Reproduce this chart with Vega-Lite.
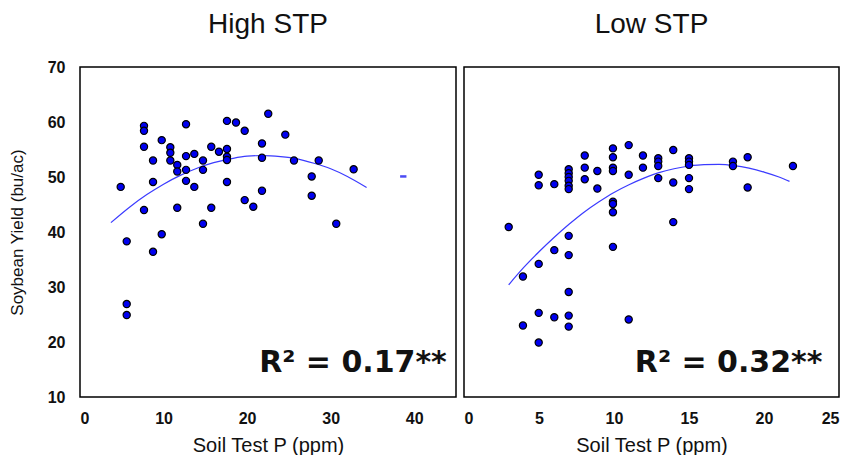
{
  "$schema": "https://vega.github.io/schema/vega-lite/v6.json",
  "background": "white",
  "padding": {"left": 7, "top": 10, "right": 5, "bottom": 0},
  "config": {
    "font": "Liberation Sans",
    "view": {"stroke": "black", "strokeWidth": 1.5},
    "axis": {"grid": false, "ticks": false, "domain": false, "labelFont": "Liberation Sans", "labelFontSize": 16, "labelFontWeight": "bold", "labelColor": "#111111", "titleFont": "Liberation Sans", "titleFontSize": 20, "titleFontWeight": "normal", "titleColor": "#111111"},
    "title": {"font": "Liberation Sans", "fontSize": 28, "fontWeight": "normal", "color": "#111111", "anchor": "middle", "offset": 20}
  },
  "datasets": {
    "high": [
      {"p": 4.87, "yield": 48.2}, {"p": 5.59, "yield": 38.3}, {"p": 5.59, "yield": 26.9}, {"p": 5.59, "yield": 24.9},
      {"p": 7.66, "yield": 59.3}, {"p": 7.66, "yield": 58.4}, {"p": 7.66, "yield": 55.5}, {"p": 7.66, "yield": 44.0},
      {"p": 8.74, "yield": 53.0}, {"p": 8.74, "yield": 49.1}, {"p": 8.74, "yield": 36.4},
      {"p": 9.78, "yield": 56.7}, {"p": 9.78, "yield": 39.6},
      {"p": 10.81, "yield": 55.4}, {"p": 10.81, "yield": 54.4}, {"p": 10.81, "yield": 53.0},
      {"p": 11.64, "yield": 52.2}, {"p": 11.64, "yield": 51.0}, {"p": 11.64, "yield": 44.4},
      {"p": 12.69, "yield": 59.6}, {"p": 12.69, "yield": 53.8}, {"p": 12.69, "yield": 51.3}, {"p": 12.69, "yield": 49.3},
      {"p": 13.68, "yield": 54.2}, {"p": 13.68, "yield": 48.2},
      {"p": 14.72, "yield": 53.0}, {"p": 14.72, "yield": 51.3}, {"p": 14.72, "yield": 41.5},
      {"p": 15.71, "yield": 55.5}, {"p": 15.71, "yield": 44.4},
      {"p": 16.63, "yield": 54.6},
      {"p": 17.59, "yield": 60.2}, {"p": 17.59, "yield": 55.1}, {"p": 17.59, "yield": 53.7}, {"p": 17.59, "yield": 53.1}, {"p": 17.59, "yield": 49.1},
      {"p": 18.67, "yield": 59.9},
      {"p": 19.71, "yield": 58.4}, {"p": 19.71, "yield": 45.8},
      {"p": 20.74, "yield": 44.6},
      {"p": 21.78, "yield": 56.1}, {"p": 21.78, "yield": 53.5}, {"p": 21.78, "yield": 47.5},
      {"p": 22.53, "yield": 61.5},
      {"p": 24.57, "yield": 57.7},
      {"p": 25.61, "yield": 53.0},
      {"p": 27.73, "yield": 50.1}, {"p": 27.73, "yield": 46.6},
      {"p": 28.57, "yield": 53.0},
      {"p": 30.67, "yield": 41.5},
      {"p": 32.75, "yield": 51.4}
    ],
    "highStray": [{"p": 38.69, "yield": 50.1}],
    "highFit": [
      {"p": 3.7, "yield": 41.7}, {"p": 6, "yield": 44.6}, {"p": 8, "yield": 46.8}, {"p": 10, "yield": 48.7},
      {"p": 12, "yield": 50.3}, {"p": 14, "yield": 51.6}, {"p": 16, "yield": 52.6}, {"p": 18, "yield": 53.3},
      {"p": 20, "yield": 53.8}, {"p": 22, "yield": 53.9}, {"p": 24, "yield": 53.7}, {"p": 26, "yield": 53.3},
      {"p": 28, "yield": 52.5}, {"p": 30, "yield": 51.5}, {"p": 32, "yield": 50.1}, {"p": 34.3, "yield": 48.1}
    ],
    "highLabel": [{"p": 43.9, "yield": 14.6, "label": "R² = 0.17**"}],
    "low": [
      {"p": 2.98, "yield": 40.9}, {"p": 3.93, "yield": 31.9}, {"p": 3.93, "yield": 23.0},
      {"p": 4.98, "yield": 50.4}, {"p": 4.98, "yield": 48.5}, {"p": 4.98, "yield": 34.2}, {"p": 4.98, "yield": 25.3}, {"p": 4.98, "yield": 19.9},
      {"p": 6.02, "yield": 48.7}, {"p": 6.02, "yield": 36.7}, {"p": 6.02, "yield": 24.5},
      {"p": 6.98, "yield": 51.4}, {"p": 6.98, "yield": 50.7}, {"p": 6.98, "yield": 50.0}, {"p": 6.98, "yield": 49.3}, {"p": 6.98, "yield": 48.4}, {"p": 6.98, "yield": 47.8},
      {"p": 6.98, "yield": 39.3}, {"p": 6.98, "yield": 35.8}, {"p": 6.98, "yield": 29.1}, {"p": 6.98, "yield": 24.8}, {"p": 6.98, "yield": 22.8},
      {"p": 8.05, "yield": 53.9}, {"p": 8.05, "yield": 51.7}, {"p": 8.05, "yield": 49.6},
      {"p": 8.89, "yield": 51.1}, {"p": 8.89, "yield": 47.9},
      {"p": 9.93, "yield": 55.2}, {"p": 9.93, "yield": 53.6}, {"p": 9.93, "yield": 51.7}, {"p": 9.93, "yield": 51.1}, {"p": 9.93, "yield": 45.5}, {"p": 9.93, "yield": 45.1}, {"p": 9.93, "yield": 43.6}, {"p": 9.93, "yield": 37.3},
      {"p": 10.98, "yield": 55.8}, {"p": 10.98, "yield": 50.4}, {"p": 10.98, "yield": 24.1},
      {"p": 11.93, "yield": 53.9}, {"p": 11.93, "yield": 51.7},
      {"p": 12.95, "yield": 53.4}, {"p": 12.95, "yield": 52.8}, {"p": 12.95, "yield": 52.0}, {"p": 12.95, "yield": 49.8},
      {"p": 13.95, "yield": 54.9}, {"p": 13.95, "yield": 49.0}, {"p": 13.95, "yield": 41.8},
      {"p": 15.0, "yield": 53.4}, {"p": 15.0, "yield": 52.8}, {"p": 15.0, "yield": 52.2}, {"p": 15.0, "yield": 49.8}, {"p": 15.0, "yield": 47.8},
      {"p": 17.93, "yield": 52.8}, {"p": 17.93, "yield": 52.0},
      {"p": 18.91, "yield": 53.6}, {"p": 18.91, "yield": 48.1},
      {"p": 21.93, "yield": 52.0}
    ],
    "lowFit": [
      {"p": 2.98, "yield": 30.4}, {"p": 4, "yield": 33.6}, {"p": 5, "yield": 36.4}, {"p": 6, "yield": 39.0},
      {"p": 7, "yield": 41.4}, {"p": 8, "yield": 43.6}, {"p": 9, "yield": 45.5}, {"p": 10, "yield": 47.2},
      {"p": 11, "yield": 48.6}, {"p": 12, "yield": 49.8}, {"p": 13, "yield": 50.8}, {"p": 14, "yield": 51.5},
      {"p": 15, "yield": 52.0}, {"p": 16, "yield": 52.26}, {"p": 17, "yield": 52.28}, {"p": 18, "yield": 52.07},
      {"p": 19, "yield": 51.6}, {"p": 20, "yield": 50.9}, {"p": 21, "yield": 50.0}, {"p": 21.7, "yield": 49.2}
    ],
    "lowLabel": [{"p": 23.9, "yield": 14.6, "label": "R² = 0.32**"}]
  },
  "bounds": "flush",
  "spacing": 8,
  "hconcat": [
    {
      "width": 376,
      "height": 330,
      "title": {"text": "High STP"},
      "encoding": {
        "x": {"field": "p", "type": "quantitative", "scale": {"domain": [0, 45], "nice": false, "zero": false}, "axis": {"values": [0, 10, 20, 30, 40], "title": "Soil Test P (ppm)", "labelPadding": 13, "titlePadding": 9}},
        "y": {"field": "yield", "type": "quantitative", "scale": {"domain": [10, 70], "nice": false, "zero": false}, "axis": {"values": [10, 20, 30, 40, 50, 60, 70], "title": "Soybean Yield (bu/ac)", "titleFontSize": 17, "labelPadding": 15, "titlePadding": 21}}
      },
      "layer": [
        {"data": {"name": "highFit"}, "mark": {"type": "line", "color": "#3b3bff", "strokeWidth": 1.2, "interpolate": "monotone"}},
        {"data": {"name": "high"}, "mark": {"type": "circle", "size": 52, "fill": "#0000f0", "fillOpacity": 1, "stroke": "black", "strokeWidth": 1.2}},
        {"data": {"name": "highStray"}, "mark": {"type": "point", "shape": "stroke", "size": 40, "stroke": "#0000f0", "strokeWidth": 2.5}},
        {"data": {"name": "highLabel"}, "mark": {"type": "text", "align": "right", "baseline": "alphabetic", "fontSize": 30, "fontWeight": "bold", "font": "DejaVu Sans", "color": "#111111"}, "encoding": {"text": {"field": "label"}}}
      ]
    },
    {
      "width": 375,
      "height": 330,
      "title": {"text": "Low STP", "offset": 28},
      "encoding": {
        "x": {"field": "p", "type": "quantitative", "scale": {"domain": [0, 25], "nice": false, "zero": false}, "axis": {"values": [0, 5, 10, 15, 20, 25], "title": "Soil Test P (ppm)", "labelPadding": 13, "titlePadding": 9}},
        "y": {"field": "yield", "type": "quantitative", "scale": {"domain": [10, 70], "nice": false, "zero": false}, "axis": null}
      },
      "layer": [
        {"data": {"name": "lowFit"}, "mark": {"type": "line", "color": "#3b3bff", "strokeWidth": 1.2, "interpolate": "monotone"}},
        {"data": {"name": "low"}, "mark": {"type": "circle", "size": 52, "fill": "#0000f0", "fillOpacity": 1, "stroke": "black", "strokeWidth": 1.2}},
        {"data": {"name": "lowLabel"}, "mark": {"type": "text", "align": "right", "baseline": "alphabetic", "fontSize": 30, "fontWeight": "bold", "font": "DejaVu Sans", "color": "#111111"}, "encoding": {"text": {"field": "label"}}}
      ]
    }
  ]
}
